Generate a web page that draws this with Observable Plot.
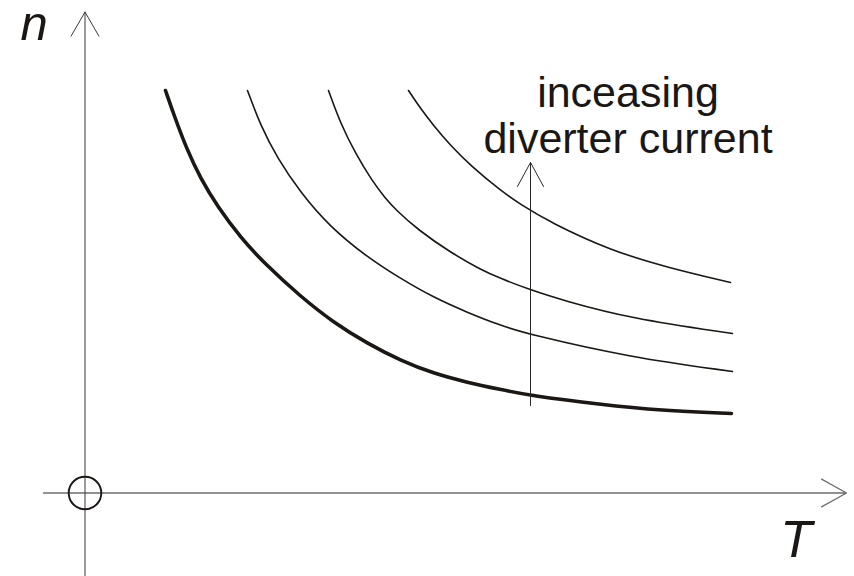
<!DOCTYPE html>
<html>
<head>
<meta charset="utf-8">
<script src="https://cdn.jsdelivr.net/npm/d3@7"></script>
<script src="https://cdn.jsdelivr.net/npm/@observablehq/plot@0.6"></script>
<style>
  html, body { margin: 0; padding: 0; background: #ffffff; }
  #chart svg { display: block; }
</style>
</head>
<body>
<div id="chart"></div>
<script>
// Schematic curves n(T), arbitrary units (origin at axis crossing)
const curveNames = ["I0", "I1", "I2", "I3"];
const T1 = [0.805, 0.895, 1.015, 1.155, 1.325, 1.555, 1.805, 2.155, 2.485, 2.825, 3.155, 3.485, 3.825, 4.155, 4.445, 5.155, 5.755, 6.465];
const n1 = [4.025, 3.765, 3.445, 3.145, 2.865, 2.555, 2.285, 1.965, 1.705, 1.495, 1.325, 1.195, 1.105, 1.035, 0.975, 0.885, 0.825, 0.795];
const T2 = [1.625, 1.755, 1.925, 2.155, 2.435, 2.825, 3.155, 3.485, 3.825, 4.155, 4.445, 5.455, 6.475];
const n2 = [4.025, 3.675, 3.345, 3.005, 2.675, 2.355, 2.145, 1.955, 1.805, 1.675, 1.585, 1.355, 1.215];
const T3 = [2.435, 2.555, 2.705, 2.875, 3.005, 3.105, 3.325, 3.655, 3.955, 4.155, 4.445, 4.785, 5.455, 6.475];
const n3 = [4.025, 3.695, 3.395, 3.115, 2.945, 2.835, 2.635, 2.405, 2.235, 2.145, 2.035, 1.925, 1.745, 1.595];
const T4 = [3.235, 3.355, 3.485, 3.655, 3.855, 4.155, 4.355, 4.655, 5.255, 5.825, 6.455];
const n4 = [4.025, 3.845, 3.675, 3.475, 3.275, 3.025, 2.885, 2.705, 2.425, 2.255, 2.105];

// Axes / annotation positions (data units)
const axisT = [-0.415, 7.615];   // horizontal axis extent
const axisN = [-0.84, 4.81];     // vertical axis extent
const arrowT = 4.455;
const arrowN = [0.875, 3.305];
const labelText = "inceasing\ndiverter current";
const labelPos = [5.43, 3.405];
const nLabelPos = [-0.51, 4.535];
const TLabelPos = [7.11, -0.635];

const Ts = [T1, T2, T3, T4], Ns = [n1, n2, n3, n4];
const curves = curveNames.map((name, k) =>
  Ts[k].map((t, i) => ({name, T: t, n: Ns[k][i]})));

const ink = "#1a1714";
const font = "'Liberation Sans', Arial, sans-serif";

const chart = Plot.plot({
  width: 854,
  height: 576,
  margin: 0,
  style: {background: "#ffffff", fontFamily: font},
  x: {domain: [-0.845, 7.695], axis: null},
  y: {domain: [-0.835, 4.925], axis: null},
  marks: [
    // horizontal axis with open arrowhead
    Plot.arrow([{x1: axisT[0], x2: axisT[1], y1: 0, y2: 0}], {
      x1: "x1", y1: "y1", x2: "x2", y2: "y2",
      stroke: "#6e6e6e", strokeWidth: 1.3, headAngle: 58, headLength: 1.5 * 28.5 / 1.3
    }),
    // vertical axis with open arrowhead
    Plot.arrow([{x1: 0, x2: 0, y1: axisN[0], y2: axisN[1]}], {
      x1: "x1", y1: "y1", x2: "x2", y2: "y2",
      stroke: "#3a3a3a", strokeWidth: 1, headAngle: 60, headLength: 1.5 * 27.8
    }),
    // origin circle
    Plot.dot([{T: 0, n: 0}], {x: "T", y: "n", r: 16.3, stroke: ink, strokeWidth: 1.9, fill: "none"}),
    // curves
    Plot.line(curves[0], {x: "T", y: "n", stroke: ink, strokeWidth: 3.6, curve: "basis"}),
    Plot.line(curves[1], {x: "T", y: "n", stroke: ink, strokeWidth: 1.6, curve: "basis"}),
    Plot.line(curves[2], {x: "T", y: "n", stroke: ink, strokeWidth: 1.6, curve: "basis"}),
    Plot.line(curves[3], {x: "T", y: "n", stroke: ink, strokeWidth: 1.6, curve: "basis"}),
    // increasing-current arrow
    Plot.arrow([{x1: arrowT, x2: arrowT, y1: arrowN[0], y2: arrowN[1]}], {
      x1: "x1", y1: "y1", x2: "x2", y2: "y2",
      stroke: "#2a2a2a", strokeWidth: 1, headAngle: 57, headLength: 1.5 * 27.3
    }),
    // annotation
    Plot.text([labelText], {
      x: labelPos[0], y: labelPos[1], text: d => d,
      fontSize: 43, lineHeight: 46 / 43, textAnchor: "middle", lineAnchor: "bottom",
      fill: ink, fontFamily: font
    }),
    // axis labels
    Plot.text(["n"], {
      x: nLabelPos[0], y: nLabelPos[1], text: d => d,
      fontSize: 49, fontStyle: "italic", textAnchor: "middle", lineAnchor: "bottom",
      fill: ink, fontFamily: font
    }),
    Plot.text(["T"], {
      x: TLabelPos[0], y: TLabelPos[1], text: d => d,
      fontSize: 52, fontStyle: "italic", textAnchor: "middle", lineAnchor: "bottom",
      fill: ink, fontFamily: font
    })
  ]
});
document.getElementById("chart").appendChild(chart);
</script>
</body>
</html>
